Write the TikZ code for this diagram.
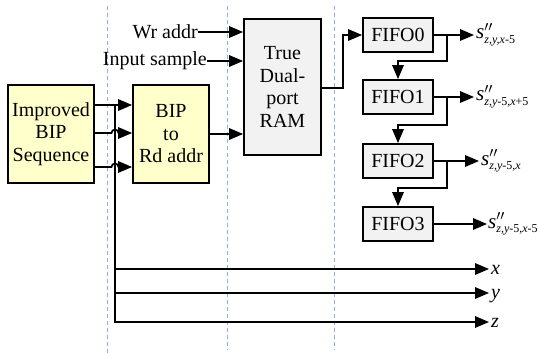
\documentclass[tikz,border=0pt]{standalone}
\usepackage{amsmath}
\usepackage{fontspec}
\setmainfont{Liberation Serif}
\usetikzlibrary{arrows.meta,calc}
\definecolor{boxyellow}{RGB}{255,255,204}
\definecolor{boxgray}{RGB}{242,242,242}
\definecolor{guide}{RGB}{150,172,222}
\newcommand{\slabel}[1]{{\fontsize{21}{24}\selectfont\itshape s}\rlap{\fontsize{20}{24}\selectfont$^{\prime\prime}$}\raisebox{-5pt}{\fontsize{12}{14}\selectfont #1}}
\begin{document}
\begin{tikzpicture}[x=1pt,y=-1pt,
  blk/.style={draw, line width=1.8pt, inner sep=0pt, align=center, font=\rmfamily\fontsize{20}{22.5}\selectfont},
  yel/.style={blk, fill=boxyellow},
  gry/.style={blk, fill=boxgray},
  fifo/.style={gry, minimum width=70pt, minimum height=34pt},
  conn/.style={line width=1.7pt, -{Triangle[length=14pt,width=11.5pt]}},
  wire/.style={line width=1.7pt},
  guideline/.style={draw=guide, line width=0.6pt, dash pattern=on 4pt off 3pt},
  txt/.style={font=\rmfamily\fontsize{20}{24}\selectfont, inner sep=0pt},
  lbl/.style={font=\rmfamily\fontsize{20}{24}\selectfont, inner sep=0pt, anchor=base west}]

\useasboundingbox (0,0) rectangle (539,353);

% guide lines
\draw[guideline] (107,6) -- (107,353);
\draw[guideline] (227,6) -- (227,350);
\draw[guideline] (334,6) -- (334,350);

% blocks
\node[yel, minimum width=86pt, minimum height=98pt] (imp) at (51,134) {Improved\\BIP\\Sequence};
\node[yel, minimum width=76pt, minimum height=98pt] (bip) at (171,134) {BIP\\to\\Rd addr};
\node[gry, minimum width=77pt, minimum height=136pt] (ram) at (282.5,87) {True\\Dual-\\port\\RAM};
\node[fifo] (f0) at (398,35) {FIFO0};
\node[fifo] (f1) at (398,97) {FIFO1};
\node[fifo] (f2) at (398,161) {FIFO2};
\node[fifo] (f3) at (398,224) {FIFO3};

% inputs to RAM
\node[txt, anchor=east] (wr) at (198,32) {Wr addr};
\node[txt, anchor=east] (ins) at (207,61) {Input sample};
\draw[conn] (wr.east) -- (ram.west |- wr.east);
\draw[conn] (ins.east) -- (ram.west |- ins.east);
\draw[conn] (bip.east) -- (ram.west |- bip.east);

% Improved -> BIP
\coordinate (t1) at (115,105);
\draw[conn] (imp.east |- t1) -- (bip.west |- t1);
\draw[conn] (imp.east |- 0,133) -- (111.5,133) arc[start angle=180,end angle=360,radius=3.5] -- (bip.west |- 0,133);
\draw[conn] (imp.east |- 0,167) -- (111.5,167) arc[start angle=180,end angle=360,radius=3.5] -- (bip.west |- 0,167);

% x y z outputs
\node[lbl] (xl) at (491,274) {\textit{x}};
\node[lbl] (yl) at (491,298) {\textit{y}};
\node[lbl] (zl) at (491,327) {\textit{z}};
\draw[conn] (t1) |- (115,322) -- (489,322);
\draw[conn] (115,269) -- (489,269);
\draw[conn] (115,293) -- (489,293);

% RAM -> FIFO0
\draw[conn] (ram.east |- 0,88) -- (343,88) |- (f0.west);

% FIFO outputs
\node[lbl] (s0) at (476,39) {\slabel{\itshape z,y,x\upshape -5}};
\node[lbl] (s1) at (476,101) {\slabel{\itshape z,y\upshape -5,\itshape x\upshape +5}};
\node[lbl] (s2) at (481,165) {\slabel{\itshape z,y\upshape -5,\itshape x}};
\node[lbl] (s3) at (488,228) {\slabel{\itshape z,y\upshape -5,\itshape x\upshape -5}};
\draw[conn] (f0.east) -- (474,35);
\draw[conn] (f1.east) -- (474,97);
\draw[conn] (f2.east) -- (479,161);
\draw[conn] (f3.east) -- (487,224);

% FIFO chain
\draw[conn] (447,35) |- (398,61) -- (f1.north);
\draw[conn] (447,97) |- (398,125) -- (f2.north);
\draw[conn] (447,161) |- (398,188) -- (f3.north);
\end{tikzpicture}
\end{document}
